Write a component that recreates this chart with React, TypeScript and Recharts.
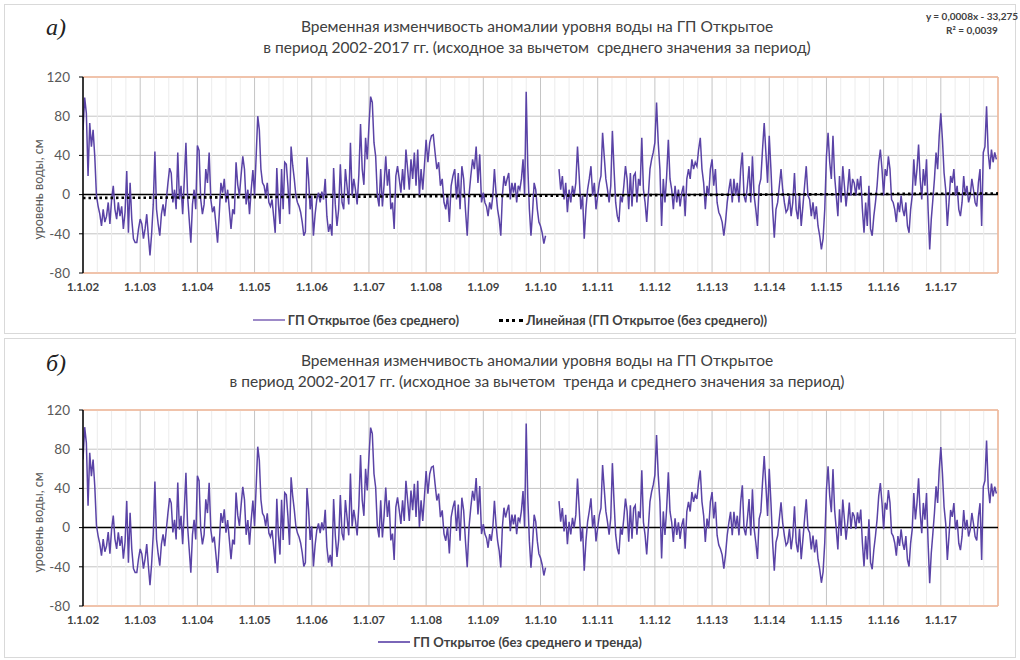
import { LineChart, Line, XAxis, YAxis, CartesianGrid, ReferenceLine } from "recharts";

// water level anomaly, cm (~34 points per year)
const years = [2002, 2003, 2004, 2005, 2006, 2007, 2008, 2009, 2010, 2011, 2012, 2013, 2014, 2015, 2016, 2017];

const level2002 = [66, 99, 83, 19, 73, 49, 66, 39, -1, -12, -20, -32, -15, -28, -22, -8, -30, -5, 9, -15, -25, -8, -22, -12, -35, -18, 24, -39, 12, -25, -45, -49, -49, -35];
const level2003 = [-25, -30, -45, -35, -20, -42, -62, -40, -10, 44, -15, -30, -42, -20, -10, -22, -5, 12, 27, 22, -8, 5, -15, 43, -5, 9, -20, 15, 53, -1, -25, -49, -10, 5, -15];
const level2004 = [50, 45, -5, -20, -10, 26, 12, 43, -5, -18, -12, -30, -49, -20, 12, 2, 16, -8, 5, -15, -35, -15, -20, 33, 10, -1, 20, 39, 26, -10, 5, -20, 5, 25];
const level2005 = [-1, 39, 80, 66, 26, 12, 9, -1, 12, -8, -12, -5, -22, -39, 27, -10, -30, 26, -15, 33, 31, 9, -20, 49, 30, 16, -1, -8, -12, -18, -28, -42, -38, 38, 16, -15];
const level2006 = [-1, -42, -20, -5, 2, -8, 3, -5, 16, -22, -38, -30, -42, 27, -10, -32, -15, 31, -8, -15, 26, 8, -10, 53, -1, 16, 5, -10, 20, 72, 26, 10, 58, 36];
const level2007 = [70, 100, 94, 53, 39, -1, -12, 26, -12, 10, 39, 9, 26, -15, -8, -35, 19, 29, 16, 2, 26, 5, 46, 26, 5, 36, 16, 43, 9, 46, -1, 26, 5, 30];
const level2008 = [56, 33, 53, 60, 61, 43, 26, 33, 9, 16, -8, -15, -1, -28, 9, 19, 26, -5, 22, -15, 29, 16, -15, -42, -1, 19, 36, 26, 49, 12, 41, -8];
const level2009 = [2, -8, -12, -22, -8, -15, -1, 26, 2, -15, -25, -42, -1, 19, 9, 16, 22, -5, 12, 2, 12, -8, 9, 5, 16, 36, -1, 105, 29, -15, -42, -18, 12, 5, -15, -28];
const level2010 = [-32, -39, -50, -42, null, null, null, null, null, null, null, 26, 5, 19, -5, 12, -18, 5, -8, 9, -1, 12, 49, 19, -15, -1, -45, -15, 5, 16, 29, -1, 12, -15];
const level2011 = [-1, 12, 19, 63, 39, 16, 5, -8, 9, 65, 26, -8, -22, -28, -1, -8, 9, 29, 16, -15, 22, -12, 19, 22, -8, 16, 9, 58, 5, -8, -28, -1, 26, 36, 43];
const level2012 = [53, 94, 53, 26, -32, 16, -8, 19, 56, 16, 5, -15, 9, -8, 5, -12, 2, 9, -22, 16, 26, 16, 36, 26, 33, 29, 46, 58, 26, 12, -15, 9, -1, 26];
const level2013 = [36, 9, 26, -8, -18, -22, -28, -42, -28, -8, 5, 16, -8, 16, -1, 12, -8, 26, 43, -1, -8, 9, 29, -8, 39, -1, -15, -32, 9, 16, 46, 73, 43, 12];
const level2014 = [60, 26, -15, -44, -15, -8, 9, 26, 5, -8, -18, -15, -1, -22, -8, 22, -15, -25, -1, -32, -12, 9, 29, -1, -5, -22, -8, -25, -12, -32, -42, -56, -45, -15];
const level2015 = [39, 63, 33, 16, 60, 19, -1, -22, 19, -8, 29, 9, -12, 5, 26, -1, 16, 12, -1, 16, 5, 19, -15, -39, -8, -32, 9, -35, -42, -22, -8, 9, 33, 46, 26];
const level2016 = [-1, 26, 19, 39, 26, -5, -8, -15, -28, -8, -18, -1, -15, -22, -8, -32, -39, -15, -1, 36, 9, 26, 51, 16, -5, 26, 9, 36, -15, -56, -25, -5, 16, 43, 26, 60];
const level2017 = [83, 56, 22, 5, -32, -8, 19, 12, 26, -1, 9, -15, -22, -8, 19, -1, 9, -8, -1, 16, 5, -8, -12, 12, 26, -32, 43, 49, 90, 43, 26, 46, 33, 43, 36];

const levels = [level2002, level2003, level2004, level2005, level2006, level2007, level2008, level2009,
  level2010, level2011, level2012, level2013, level2014, level2015, level2016, level2017];

// linear trend shown on the chart: y = 0,0008x - 33,275 (x = Excel date serial)
const trendSlope = 0.0008;
const trendIntercept = -33.275;
const serialJan2002 = 37257;

const yTicks = [-80, -40, 0, 40, 80, 120];

const trendAt = (t: number) => trendSlope * (serialJan2002 + (t - 2002) * 365.25) + trendIntercept;

const rows = years.flatMap((yr, k) =>
  levels[k].map((v, i) => {
    const t = yr + i / levels[k].length;
    return { t, raw: v, detr: v === null ? null : v - trendAt(t) };
  })
);
const trendRows = [2002, 2018].map((t) => ({ t, trend: trendAt(t) }));
const quarters = years.flatMap((y) => [y + 0.25, y + 0.5, y + 0.75]);

const FONT = "Lato, 'Open Sans', sans-serif";
const PURPLE = "#5a43a6";

function Panel({ top, height, plotTop, plotBottom, dataKey, withTrend }: any) {
  return (
    <div style={{ position: "absolute", left: 4, top, width: 1012, height }}>
      <LineChart
        width={1012}
        height={height}
        data={rows}
        margin={{ top: plotTop, right: 18, left: 19, bottom: height - plotBottom - 30 }}
      >
        <CartesianGrid stroke="#c4c4c4" strokeWidth={1} />
        {quarters.map((q) => (
          <ReferenceLine key={q} x={q} stroke="#ececec" strokeWidth={1} />
        ))}
        <ReferenceLine y={120} stroke="#f4b999" strokeWidth={1.5} />
        <ReferenceLine y={-80} stroke="#f4b999" strokeWidth={1.5} />
        <ReferenceLine x={2018} stroke="#f4b999" strokeWidth={1.5} />
        <XAxis
          dataKey="t"
          type="number"
          domain={[2002, 2018]}
          ticks={years}
          tickFormatter={(t: number) => `1.1.${String(t - 2000).padStart(2, "0")}`}
          axisLine={false}
          tickLine={false}
          tickSize={0}
          tickMargin={10}
          tick={{ fontSize: 11.5, fontWeight: 700, fill: "#404040", fontFamily: FONT }}
          allowDataOverflow
        />
        <YAxis
          width={60}
          domain={[-80, 120]}
          ticks={yTicks}
          axisLine={{ stroke: "#000", strokeWidth: 1.5 }}
          tickLine={{ stroke: "#000" }}
          tickSize={4}
          tickMargin={9}
          tick={{ fontSize: 13.5, fill: "#595959", fontFamily: FONT }}
          allowDataOverflow
        />
        <ReferenceLine y={0} stroke="#000" strokeWidth={1.5} />
        <Line
          type="linear"
          dataKey={dataKey}
          stroke={PURPLE}
          strokeWidth={1.5}
          dot={false}
          connectNulls={false}
          isAnimationActive={false}
        />
        {withTrend && (
          <Line
            data={trendRows}
            type="linear"
            dataKey="trend"
            stroke="#000"
            strokeWidth={2.6}
            strokeDasharray="2.5 3"
            dot={false}
            isAnimationActive={false}
          />
        )}
      </LineChart>
    </div>
  );
}

const titleStyle: any = {
  position: "absolute",
  left: 80,
  width: 914,
  textAlign: "center",
  fontFamily: FONT,
  fontSize: 15.5,
  color: "#404040",
  lineHeight: "21px",
};

const letterStyle: any = {
  position: "absolute",
  left: 46,
  fontFamily: "'Liberation Serif', serif",
  fontStyle: "italic",
  fontSize: 24,
  color: "#222",
};

const yLabelStyle: any = {
  position: "absolute",
  width: 140,
  textAlign: "center",
  fontFamily: FONT,
  fontSize: 12.5,
  color: "#595959",
  transform: "rotate(-90deg)",
};

const legendStyle: any = {
  position: "absolute",
  left: 0,
  width: 1020,
  display: "flex",
  justifyContent: "center",
  alignItems: "center",
  gap: 40,
  fontFamily: FONT,
  fontSize: 13,
  fontWeight: 700,
  color: "#404040",
};

export default function App() {
  return (
    <div style={{ position: "absolute", left: 0, top: 0, width: 1020, height: 660, background: "#fff", overflow: "hidden" }}>
      <div style={{ position: "absolute", left: 4, top: 4, width: 1012, height: 330, border: "1px solid #d9d9d9", boxSizing: "border-box" }} />
      <div style={{ position: "absolute", left: 4, top: 338, width: 1012, height: 320, border: "1px solid #d9d9d9", boxSizing: "border-box" }} />

      <Panel top={4} height={330} plotTop={73} plotBottom={269} dataKey="raw" withTrend />
      <Panel top={338} height={320} plotTop={72} plotBottom={268} dataKey="detr" withTrend={false} />

      <div style={{ ...letterStyle, top: 14 }}>а)</div>
      <div style={{ ...titleStyle, top: 16 }}>
        Временная изменчивость аномалии уровня воды на ГП Открытое
        <br />в период 2002-2017 гг. (исходное за вычетом&nbsp; среднего значения за период)
      </div>
      <div style={{ position: "absolute", left: 912, top: 9, width: 120, textAlign: "center", whiteSpace: "nowrap", fontFamily: FONT, fontSize: 10, fontWeight: 700, color: "#404040", lineHeight: "14px" }}>
        y = 0,0008x - 33,275
        <br />R² = 0,0039
      </div>
      <div style={{ ...yLabelStyle, left: -32, top: 182 }}>уровень воды, см</div>
      <div style={{ ...legendStyle, top: 312 }}>
        <span style={{ display: "flex", alignItems: "center", gap: 3 }}>
          <span style={{ width: 32, height: 2, background: "#9d8ac8", display: "inline-block" }} />
          ГП Открытое (без среднего)
        </span>
        <span style={{ display: "flex", alignItems: "center", gap: 3 }}>
          <span style={{ width: 24, borderTop: "3px dotted #000", display: "inline-block" }} />
          Линейная (ГП Открытое (без среднего))
        </span>
      </div>

      <div style={{ ...letterStyle, top: 350 }}>б)</div>
      <div style={{ ...titleStyle, top: 350 }}>
        Временная изменчивость аномалии уровня воды на ГП Открытое
        <br />в период 2002-2017 гг. (исходное за вычетом&nbsp; тренда и среднего значения за период)
      </div>
      <div style={{ ...yLabelStyle, left: -32, top: 515 }}>уровень воды, см</div>
      <div style={{ ...legendStyle, top: 634 }}>
        <span style={{ display: "flex", alignItems: "center", gap: 3 }}>
          <span style={{ width: 32, height: 2, background: "#7a66b8", display: "inline-block" }} />
          ГП Открытое (без среднего и тренда)
        </span>
      </div>
    </div>
  );
}
